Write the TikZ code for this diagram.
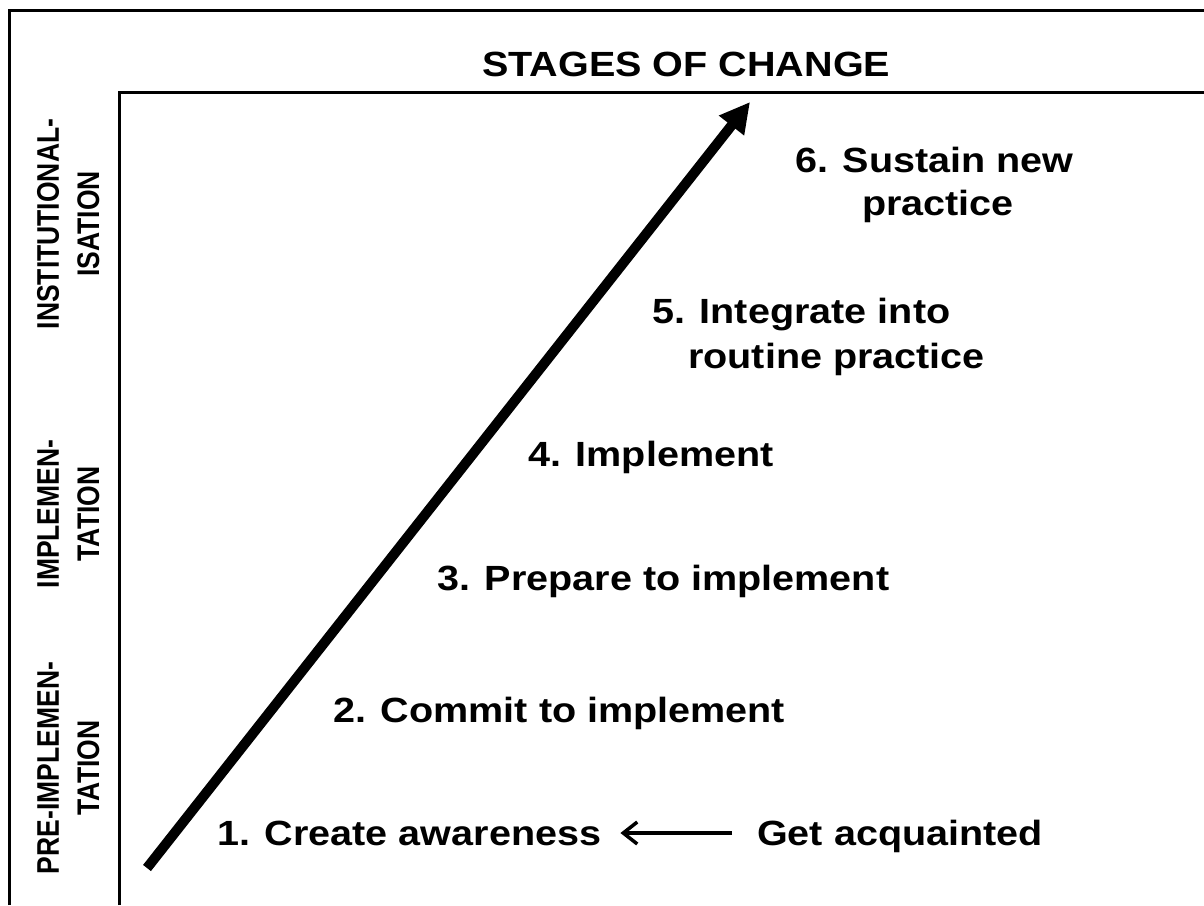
\documentclass[tikz,border=0pt]{standalone}
\usepackage{fontspec}
\setmainfont{Liberation Sans}
\usetikzlibrary{arrows.meta}
\newcommand{\wt}[1]{\scalebox{1.13}[1]{#1}}
\newcommand{\vt}[1]{\scalebox{1}[1.18]{\fontsize{26.5}{34}\selectfont\bfseries\begin{tabular}{@{}c@{}}#1\end{tabular}}}
\begin{document}
\begin{tikzpicture}[x=1pt,y={(0pt,-1pt)},
  lbl/.style={inner sep=0pt,anchor=base west,font=\fontsize{35}{43}\selectfont\bfseries},
  side/.style={inner sep=0pt,rotate=90,anchor=center},
  frame/.style={line width=3pt},
  bigarrow/.style={line width=10pt,-{Triangle[length=30pt 0,width=30pt 0]}},
  smallarrow/.style={line width=3.5pt,-{Straight Barb[length=14pt 0,width=22pt 0,line width=3.5pt]}}]
\useasboundingbox (0,0) rectangle (1204,905);
\coordinate (o1) at (9,905);
\coordinate (o2) at (9,10);
\coordinate (o3) at (1205,10);
\coordinate (a1) at (119,905);
\coordinate (a2) at (119,92);
\coordinate (a3) at (1205,92);
\draw[frame] (o1) -- (o2) -- (o3);
\draw[frame] (a1) -- (a2) -- (a3);
\node[lbl] (title) at (482,76) {\wt{STAGES OF CHANGE}};
\node[lbl] (s6) at (795,172) {\wt{6. Sustain new}};
\node[lbl] (s6b) at (862,215) {\wt{practice}};
\node[lbl] (s5) at (652,323) {\wt{5. Integrate into}};
\node[lbl] (s5b) at (688,368) {\wt{routine practice}};
\node[lbl] (s4) at (528,466) {\wt{4. Implement}};
\node[lbl] (s3) at (437,590) {\wt{3. Prepare to implement}};
\node[lbl] (s2) at (333,722) {\wt{2. Commit to implement}};
\node[lbl] (s1) at (217,845) {\wt{1. Create awareness}};
\node[lbl] (ga) at (757,845) {\wt{Get acquainted}};
\node[side] (l3) at (71,224) {\vt{INSTITUTIONAL-\\ISATION}};
\node[side] (l2) at (71,514) {\vt{IMPLEMEN-\\TATION}};
\node[side] (l1) at (71,768) {\vt{PRE-IMPLEMEN-\\TATION}};
\coordinate (st) at (147,868);
\coordinate (tip) at (750,102);
\draw[bigarrow] (st) -- (tip);
\draw[smallarrow] ([shift={(-25,-12)}]ga.base west) -- ([shift={(19,-12)}]s1.base east);
\end{tikzpicture}
\end{document}
